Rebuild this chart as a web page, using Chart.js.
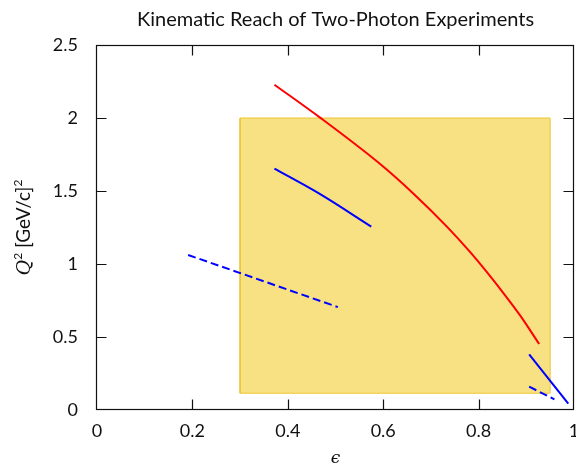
<!DOCTYPE html>
<html>
<head>
<meta charset="utf-8">
<script src="https://cdn.jsdelivr.net/npm/chart.js@4/dist/chart.umd.min.js"></script>
<style>
  html, body { margin: 0; padding: 0; background: #fff; }
  #wrap { width: 576px; height: 464px; position: relative; }
</style>
</head>
<body>
<div id="wrap"><canvas id="chart"></canvas></div>
<script>
// Values (epsilon, Q^2 in [GeV/c]^2)
const redEps = [0.372, 0.467, 0.593, 0.663, 0.733, 0.782, 0.817, 0.852, 0.887, 0.927];
const redQ2 = [2.228, 2.004, 1.686, 1.483, 1.258, 1.083, 0.946, 0.801, 0.648, 0.452];

const blueEpsA = [0.372, 0.467, 0.575];
const blueQ2A = [1.653, 1.48, 1.256];
const blueDashEpsA = [0.191, 0.505];
const blueDashQ2A = [1.062, 0.705];

const blueEpsB = [0.906, 0.988];
const blueQ2B = [0.381, 0.043];
const blueDashEpsB = [0.906, 0.959];
const blueDashQ2B = [0.16, 0.073];

// shaded region: epsilon range and Q^2 range
const boxEps = [0.3, 0.95];
const boxQ2 = [0.115, 2.0];

const xTicks = [0, 0.2, 0.4, 0.6, 0.8, 1];
const yTicks = [0, 0.5, 1, 1.5, 2, 2.5];

const titleText = 'Kinematic Reach of Two-Photon Experiments';

const pts = (xs, ys) => xs.map((v, i) => ({ x: v, y: ys[i] }));

const boxPoly = [
  { x: boxEps[0], y: boxQ2[0] },
  { x: boxEps[1], y: boxQ2[0] },
  { x: boxEps[1], y: boxQ2[1] },
  { x: boxEps[0], y: boxQ2[1] },
  { x: boxEps[0], y: boxQ2[0] }
];

const lineDs = (data, color, dash, smooth) => ({
  data,
  borderColor: color,
  borderWidth: 2,
  borderDash: dash || [],
  pointRadius: 0,
  showLine: true,
  fill: false,
  tension: smooth ? 0.4 : 0,
  cubicInterpolationMode: smooth ? 'monotone' : 'default',
  order: 1
});

const FONT = 'Lato, "DejaVu Sans", sans-serif';
const fmt = v => String(Math.round(v * 100) / 100);

// frame, inward ticks and texts
const decor = {
  id: 'decor',
  afterDatasetsDraw(chart) {
    const { ctx, chartArea: a, scales: { x, y } } = chart;
    ctx.save();
    ctx.strokeStyle = '#111';
    ctx.lineWidth = 1.2;
    const L = Math.round(a.left) - 0.5, R = Math.round(a.right) - 0.5;
    const T = Math.round(a.top) + 0.5, B = Math.round(a.bottom) - 0.5;
    ctx.strokeRect(L, T, R - L, B - T);
    const tl = 10;
    ctx.beginPath();
    xTicks.slice(1, -1).forEach(v => {
      const px = Math.round(x.getPixelForValue(v)) + 0.5;
      ctx.moveTo(px, B); ctx.lineTo(px, B - tl);
      ctx.moveTo(px, T); ctx.lineTo(px, T + tl);
    });
    yTicks.slice(1, -1).forEach(v => {
      const py = Math.round(y.getPixelForValue(v)) + 0.5;
      ctx.moveTo(L, py); ctx.lineTo(L + tl, py);
      ctx.moveTo(R, py); ctx.lineTo(R - tl, py);
    });
    ctx.stroke();
    ctx.restore();
  },
  afterDraw(chart) {
    const { ctx, chartArea: a } = chart;
    const cx = (a.left + a.right) / 2;
    const cy = (a.top + a.bottom) / 2;
    ctx.save();
    ctx.fillStyle = '#111';
    // title
    ctx.font = '20px ' + FONT;
    ctx.textAlign = 'center';
    ctx.textBaseline = 'alphabetic';
    ctx.fillText(titleText, cx, 26);
    // x label
    ctx.font = 'italic 17px "DejaVu Serif", serif';
    ctx.fillText('\u03F5', cx, 463);
    // y label, rotated
    const parts = [
      { t: 'Q', f: 'italic 19px "DejaVu Serif", serif', dy: 0 },
      { t: '2', f: '12px ' + FONT, dy: -8 },
      { t: ' [GeV/c]', f: '19px ' + FONT, dy: 0 },
      { t: '2', f: '12px ' + FONT, dy: -8 }
    ];
    let total = 0;
    parts.forEach(p => { ctx.font = p.f; p.w = ctx.measureText(p.t).width; total += p.w; });
    ctx.translate(30, cy);
    ctx.rotate(-Math.PI / 2);
    ctx.textAlign = 'left';
    let pos = -total / 2;
    parts.forEach(p => {
      ctx.font = p.f;
      ctx.fillText(p.t, pos, p.dy);
      pos += p.w;
    });
    ctx.restore();
  }
};

new Chart(document.getElementById('chart'), {
  type: 'scatter',
  data: {
    datasets: [
      lineDs(pts(redEps, redQ2), '#ff0000', null, true),
      lineDs(pts(blueEpsA, blueQ2A), '#0000ff', null, true),
      lineDs(pts(blueDashEpsA, blueDashQ2A), '#0000ff', [8, 4]),
      lineDs(pts(blueEpsB, blueQ2B), '#0000ff'),
      lineDs(pts(blueDashEpsB, blueDashQ2B), '#0000ff', [8, 4]),
      {
        data: boxPoly,
        showLine: true,
        pointRadius: 0,
        borderColor: '#eec532',
        borderWidth: 1,
        backgroundColor: 'rgba(240, 200, 30, 0.55)',
        fill: 'shape',
        tension: 0,
        order: 5
      }
    ]
  },
  options: {
    responsive: true,
    maintainAspectRatio: false,
    animation: false,
    layout: { padding: { top: 45, right: 2, left: 0, bottom: 0 } },
    plugins: { legend: { display: false }, tooltip: { enabled: false } },
    scales: {
      x: {
        type: 'linear',
        min: 0,
        max: 1,
        afterBuildTicks: s => { s.ticks = xTicks.map(v => ({ value: v })); },
        afterFit: s => { s.height = 54; s.paddingRight = 0; s.paddingLeft = 0; },
        grid: { display: false, drawTicks: false },
        border: { display: false },
        ticks: { color: '#111', padding: 10, maxRotation: 0, callback: fmt, font: { family: FONT, size: 18 } }
      },
      y: {
        type: 'linear',
        min: 0,
        max: 2.5,
        afterBuildTicks: s => { s.ticks = yTicks.map(v => ({ value: v })); },
        afterFit: s => { s.width = 97; },
        grid: { display: false, drawTicks: false },
        border: { display: false },
        ticks: { color: '#111', padding: 19, callback: fmt, font: { family: FONT, size: 18 } }
      }
    }
  },
  plugins: [decor]
});
</script>
</body>
</html>
